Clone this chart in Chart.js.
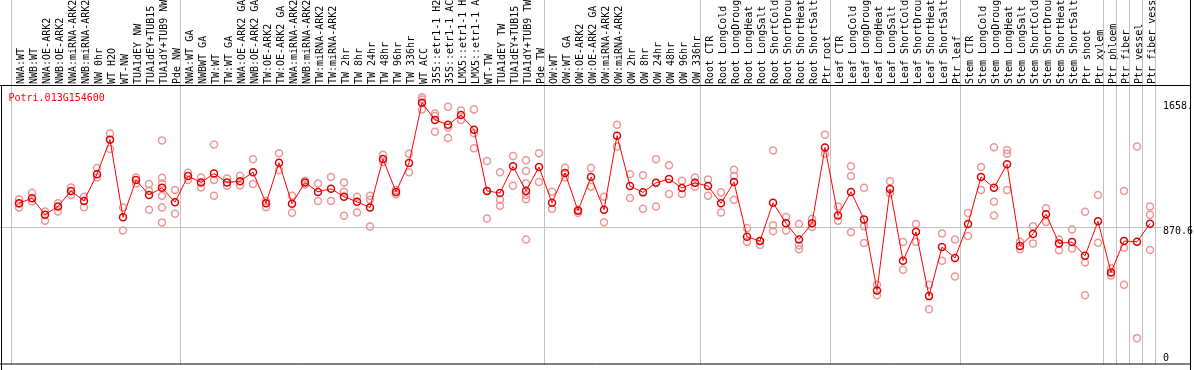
<!DOCTYPE html>
<html>
<head>
<meta charset="utf-8">
<script src="https://cdn.jsdelivr.net/npm/chart.js@4.4.0/dist/chart.umd.min.js"></script>
<style>
  html, body { margin: 0; padding: 0; background: #fff; }
</style>
</head>
<body>
<canvas id="expr_chart" width="1194" height="370"></canvas>
<script>
var geneName = 'Potri.013G154600';

var samples = [
    'NWA:WT', 'NWB:WT', 'NWA:OE-ARK2', 'NWB:OE-ARK2', 'NWA:miRNA-ARK2', 'NWB:miRNA-ARK2', 'NW 0hr',
    'WT H2O', 'WT-NW', 'TUA1dEY NW', 'TUA1dEY+TUB15 NW', 'TUA1dY+TUB9 NW', 'Pde NW',
    'NWA:WT GA', 'NWBWT GA', 'TW:WT', 'TW:WT GA', 'NWA:OE-ARK2 GA', 'NWB:OE-ARK2 GA', 'TW:OE-ARK2',
    'TW:OE-ARK2 GA', 'NWA:miRNA-ARK2', 'NWB:miRNA-ARK2', 'TW:miRNA-ARK2', 'TW:miRNA-ARK2',
    'TW 2hr', 'TW 8hr', 'TW 24hr', 'TW 48hr', 'TW 96hr', 'TW 336hr', 'WT ACC',
    '35S::etr1-1 H2O', '35S::etr1-1 ACC', 'LMX5::etr1-1 H2O', 'LMX5::etr1-1 ACC',
    'WT-TW', 'TUA1dEY TW', 'TUA1dEY+TUB15 TW', 'TUA1dY+TUB9 TW', 'Pde TW',
    'OW:WT', 'OW:WT GA', 'OW:OE-ARK2', 'OW:OE-ARK2 GA', 'OW:miRNA-ARK2', 'OW:miRNA-ARK2',
    'OW 2hr', 'OW 8hr', 'OW 24hr', 'OW 48hr', 'OW 96hr', 'OW 336hr',
    'Root CTR', 'Root LongCold', 'Root LongDrought', 'Root LongHeat', 'Root LongSalt',
    'Root ShortCold', 'Root ShortDrought', 'Root ShortHeat', 'Root ShortSalt', 'Ptr root',
    'Leaf CTR', 'Leaf LongCold', 'Leaf LongDrought', 'Leaf LongHeat', 'Leaf LongSalt',
    'Leaf ShortCold', 'Leaf ShortDrought', 'Leaf ShortHeat', 'Leaf ShortSalt', 'Ptr leaf',
    'Stem CTR', 'Stem LongCold', 'Stem LongDrought', 'Stem LongHeat', 'Stem LongSalt',
    'Stem ShortCold', 'Stem ShortDrought', 'Stem ShortHeat', 'Stem ShortSalt', 'Ptr shoot', 'Ptr xylem',
    'Ptr phloem', 'Ptr fiber', 'Ptr vessel', 'Ptr fiber vessel'
];

var meanValues = [
    1021, 1053, 949, 1001, 1099, 1036, 1205, 1424, 932, 1168, 1074, 1119, 1028,
    1193, 1153, 1209, 1153, 1161, 1218, 1021, 1278, 1018, 1153, 1093, 1113, 1063, 1030, 994,
    1301, 1093, 1276, 1658, 1549, 1518, 1580, 1487, 1099, 1086, 1255, 1099, 1251,
    1024, 1213, 974, 1188, 980, 1449, 1130, 1090, 1151, 1174, 1118, 1151,
    1130, 1021, 1155, 809, 782, 1024, 894, 792, 894, 1374,
    944, 1093, 919, 469, 1111, 657, 840, 433, 744, 675,
    890, 1188, 1119, 1268, 750, 827, 952, 767, 775, 688, 907,
    583, 782, 777, 892
];

// one list of replicate values per sample
var replicates = [
    [1046, 1019, 994], [1088, 1032], [969, 911], [1021, 969], [1121, 1074], [1063, 996],
    [1245, 1184], [1463, 1365], [994, 849], [1184, 1146], [1143, 1101, 980],
    [1418, 1182, 1146, 1068, 994, 899], [1105, 955],
    [1215, 1168], [1184, 1121], [1393, 1168, 1069], [1178, 1132], [1196, 1134], [1299, 1143],
    [1036, 996], [1338, 1230], [1068, 961], [1163, 1140], [1146, 1036], [1188, 1036],
    [1153, 1094, 942], [1063, 963], [1068, 1043, 874], [1328, 1282], [1105, 1078], [1334, 1218],
    [1693, 1678, 1615], [1590, 1574, 1474], [1632, 1501, 1434], [1609, 1549], [1615, 1465, 1370],
    [1288, 1099, 924], [1218, 1043, 1005], [1320, 1132], [1293, 1226, 1146, 1074, 1046, 792],
    [1338, 1155],
    [1094, 986], [1246, 1184], [980, 959], [1245, 1126], [1063, 901], [1518, 1380],
    [1205, 1055], [1199, 986], [1299, 1001], [1261, 1080], [1163, 1080], [1184, 1126],
    [1171, 1068], [1090, 963], [1234, 1193, 1043], [865, 777], [782, 757], [1355, 882, 844],
    [934, 849], [890, 755, 730], [921, 871], [1455, 1334],
    [1001, 911], [1255, 1194, 838], [1119, 876, 769], [505, 438], [1161, 1084], [775, 600],
    [890, 777], [505, 350], [830, 657], [792, 557],
    [959, 813], [1251, 1105], [1376, 1030, 944], [1359, 1334, 1105], [777, 730], [876, 767],
    [990, 902], [792, 724], [855, 734], [967, 646, 438], [1074, 771],
    [609, 563], [1099, 740, 505], [1380, 167], [1001, 949, 725]
];

// last sample of each block, a grey rule is drawn after it
var groupEnds = [12, 40, 52, 62, 72, 83, 84, 85, 86, 87];

var yTickValues = [0, 870.6, 1658];
var yTickLabels = ['0', '870.6', '1658.'];
var yMax = 1763.6;

var monoFont = '10px "DejaVu Sans Mono", "Liberation Mono", monospace';

var repPoints = [];
replicates.forEach(function (vals, i) {
    vals.forEach(function (v) { repPoints.push({x: i, y: v}); });
});

var decor = {
    id: 'decor',
    beforeDatasetsDraw: function (chart) {
        var ctx = chart.ctx, area = chart.chartArea;
        var xs = chart.scales.x, ys = chart.scales.y;
        var pitch = xs.getPixelForValue(1) - xs.getPixelForValue(0);
        ctx.save();
        ctx.strokeStyle = '#c0c0c0';
        ctx.lineWidth = 1;
        var xs_lines = [xs.getPixelForValue(0) - pitch * 8 / 13];
        groupEnds.forEach(function (i) {
            xs_lines.push(xs.getPixelForValue(i) + pitch * 5 / 13);
        });
        ctx.beginPath();
        xs_lines.forEach(function (px) {
            var lx = Math.floor(px) + 0.5;
            ctx.moveTo(lx, 0);
            ctx.lineTo(lx, area.bottom);
        });
        var gy = Math.floor(ys.getPixelForValue(yTickValues[1])) + 0.5;
        ctx.moveTo(0, gy);
        ctx.lineTo(area.right + 5, gy);
        ctx.stroke();
        ctx.restore();
    },
    afterDraw: function (chart) {
        var ctx = chart.ctx, area = chart.chartArea;
        var ys = chart.scales.y;
        ctx.save();
        ctx.strokeStyle = '#000';
        ctx.lineWidth = 1;
        ctx.beginPath();
        ctx.moveTo(0, area.top - 0.5);
        ctx.lineTo(chart.width - 3, area.top - 0.5);
        ctx.moveTo(1.5, area.top - 1);
        ctx.lineTo(1.5, chart.height);
        ctx.moveTo(0, area.bottom - 0.5);
        ctx.lineTo(chart.width - 3, area.bottom - 0.5);
        ctx.moveTo(chart.width - 3.5, 0);
        ctx.lineTo(chart.width - 3.5, chart.height);
        ctx.stroke();

        ctx.font = monoFont;
        ctx.textBaseline = 'middle';
        ctx.textAlign = 'left';
        ctx.fillStyle = '#000';
        yTickValues.forEach(function (v, k) {
            var py = Math.min(ys.getPixelForValue(v) + 4, area.bottom - 6);
            ctx.fillText(yTickLabels[k], area.right + 6.5, py);
        });

        ctx.fillStyle = '#ff0000';
        ctx.textBaseline = 'alphabetic';
        ctx.fillText(geneName, area.left - 4, area.top + 14.5);
        ctx.restore();
    }
};

var ctx = document.getElementById('expr_chart').getContext('2d');
var myChart = new Chart(ctx, {
    type: 'line',
    data: {
        labels: samples,
        datasets: [{
            label: geneName,
            data: meanValues,
            borderColor: '#ff0000',
            borderWidth: 1,
            pointRadius: 3.5,
            pointBorderWidth: 1.5,
            pointBorderColor: '#e00000',
            pointBackgroundColor: 'rgba(0,0,0,0)',
            tension: 0
        },
        {
            label: 'replicates',
            data: repPoints,
            xAxisID: 'xr',
            showLine: false,
            pointRadius: 3.5,
            pointBorderWidth: 1.5,
            pointBorderColor: '#ee9696',
            pointBackgroundColor: 'rgba(0,0,0,0)'
        }]
    },
    options: {
        responsive: false,
        animation: false,
        devicePixelRatio: 1,
        layout: { padding: { left: 12.5, right: 0, top: 0, bottom: 2 } },
        plugins: { legend: { display: false }, tooltip: { enabled: false } },
        scales: {
            x: {
                position: 'top',
                offset: true,
                grid: { display: false, drawTicks: false, tickLength: 0 },
                border: { display: false },
                ticks: {
                    autoSkip: false,
                    maxRotation: 90,
                    minRotation: 90,
                    padding: 2,
                    labelOffset: 14,
                    color: '#000',
                    font: { family: '"DejaVu Sans Mono", "Liberation Mono", monospace', size: 10 }
                },
                afterFit: function (scale) { scale.height = 86; }
            },
            xr: {
                type: 'linear',
                display: false,
                min: -0.5,
                max: samples.length - 0.5
            },
            y: {
                position: 'right',
                min: 0,
                max: yMax,
                grid: { display: false },
                border: { display: false },
                ticks: { display: false },
                afterFit: function (scale) { scale.width = 37.5; }
            }
        }
    },
    plugins: [decor]
});
</script>
</body>
</html>
